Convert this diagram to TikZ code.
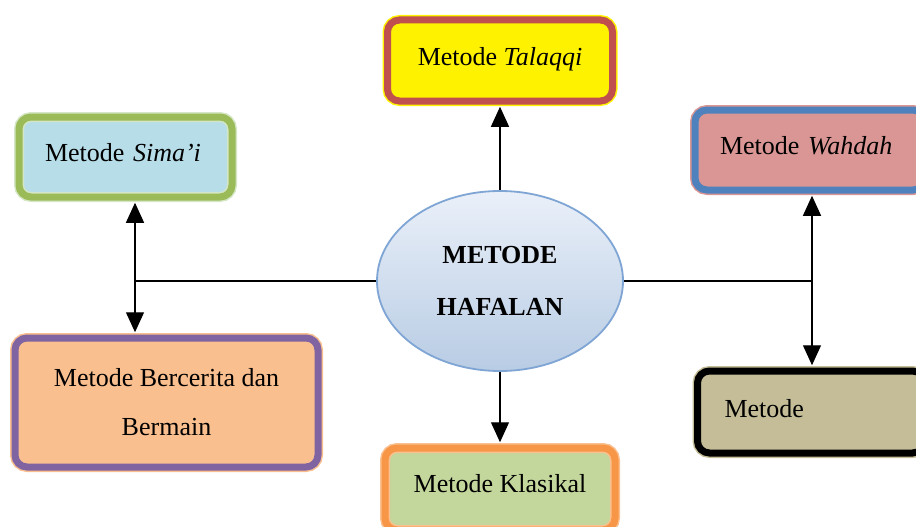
\documentclass[tikz,border=0pt]{standalone}
\usepackage{fontspec}
\setmainfont{Liberation Serif}
\usetikzlibrary{positioning}
\usetikzlibrary{shapes.geometric}
\usetikzlibrary{arrows.meta}

\definecolor{simaiFill}{HTML}{B7DDE8}
\definecolor{simaiBand}{HTML}{9BBB59}
\definecolor{simaiEdge}{HTML}{D4E6C4}
\definecolor{talaqqiBand}{HTML}{C0504D}
\definecolor{wahdahFill}{HTML}{D99694}
\definecolor{wahdahBand}{HTML}{4F81BD}
\definecolor{metodeFill}{HTML}{C4BD97}
\definecolor{ceritaFill}{HTML}{FABF8F}
\definecolor{ceritaBand}{HTML}{8064A2}
\definecolor{klasikFill}{HTML}{C3D69B}
\definecolor{klasikBand}{HTML}{F79646}
\definecolor{klasikEdge}{HTML}{FAC090}
\definecolor{ellTop}{HTML}{EAF0F9}
\definecolor{ellBot}{HTML}{B8CCE4}
\definecolor{ellLine}{HTML}{7FA5D5}

\tikzset{
  methodbox/.style n args={3}{rounded corners=12pt, fill=#1, double=#2, draw=#3,
    line width=1.5pt, double distance=7pt},
  lift/.style={text height=18pt, text depth=#1},
  link/.style={line width=1.2pt},
  tip/.style={link, -{Triangle[length=20pt,width=18pt]}, shorten >=5pt},
  tips/.style={link, {Triangle[length=20pt,width=18pt]}-{Triangle[length=20pt,width=18pt]},
    shorten >=5pt, shorten <=5pt}
}

\begin{document}
\begin{tikzpicture}[x=1pt, y=-1pt, every node/.style={font=\fontsize{26}{49}\selectfont}]
          \useasboundingbox (0,0) rectangle (916,527);
          \clip (0,0) rectangle (916,527);

          \node[methodbox={simaiFill}{simaiBand}{simaiEdge}, minimum width=213pt, minimum height=80pt,
            text width=161pt, align=left, lift=10pt] (simai) at (125.5,157) {Metode \textit{Sima'i}};
          \node[methodbox={yellow}{talaqqiBand}{yellow}, minimum width=225pt, minimum height=81pt,
            lift=7pt] (talaqqi) at (500,60.5) {Metode \textit{Talaqqi}};
          \node[methodbox={wahdahFill}{wahdahBand}{wahdahFill}, minimum width=230pt, minimum height=80pt,
            text width=180pt, align=left, lift=10pt] (wahdah) at (810,150) {Metode \textit{Wahdah}};
          \node[methodbox={metodeFill}{black}{metodeFill}, minimum width=227pt, minimum height=82pt,
            text width=173pt, align=left, lift=8pt] (metode) at (811,412) {Metode};
          \node[methodbox={ceritaFill}{ceritaBand}{ceritaFill}, minimum width=303pt, minimum height=129pt,
            align=center] (cerita) at (166.5,402.5) {Metode Bercerita dan\\Bermain};
          \node[methodbox={klasikFill}{klasikBand}{klasikEdge}, minimum width=230pt, minimum height=82pt,
            lift=11pt] (klasikal) at (500,489) {Metode Klasikal};

          % central ellipse
          \node[ellipse, draw=ellLine, line width=1.8pt, top color=ellTop, bottom color=ellBot,
            minimum width=246pt, minimum height=180pt, inner sep=0pt, align=center,
            font=\bfseries\fontsize{26}{52}\selectfont] (hafalan) at (500,281) {METODE\\HAFALAN};

          \coordinate (junL) at (135,281);
          \coordinate (junR) at (812,281);

          \draw[tip] (hafalan.north) -- (talaqqi.south);
          \draw[tip] (hafalan.south) -- (klasikal.north);
          \draw[link] (hafalan.west) -- (junL);
          \draw[link] (hafalan.east) -- (junR);
          \draw[tips] (simai.south -| junL) -- (cerita.north -| junL);
          \draw[tips] (wahdah.south -| junR) -- (metode.north -| junR);
        \end{tikzpicture}
\end{document}
